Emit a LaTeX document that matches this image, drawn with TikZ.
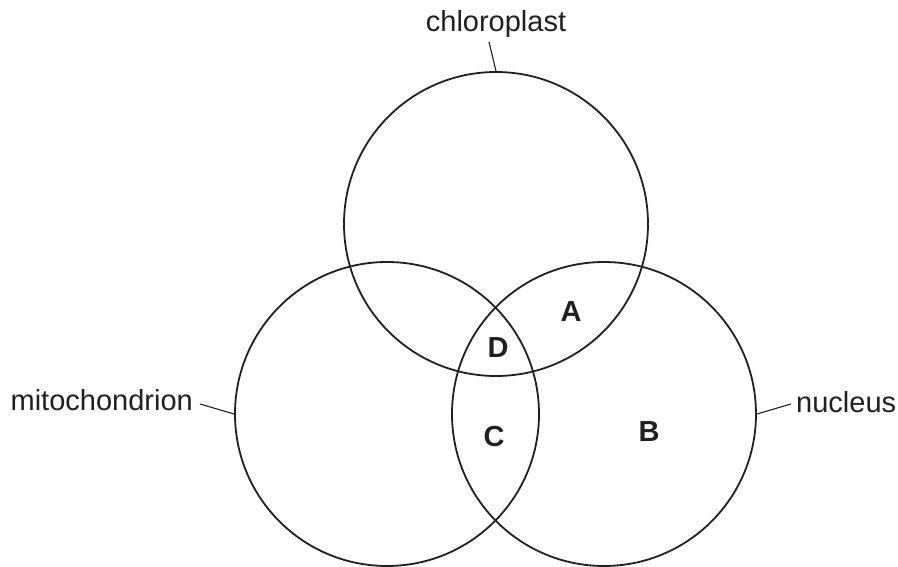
\documentclass[tikz,border=0pt]{standalone}
\usepackage{fontspec}
\setmainfont{Liberation Sans}
\definecolor{ink}{HTML}{231F20}
\begin{document}
\begin{tikzpicture}[x=1pt,y=-1pt,
  ring/.style={draw=ink,line width=1.8pt,circle,minimum size=304pt,inner sep=0pt},
  lbl/.style={text=ink,font=\fontsize{29}{33}\selectfont,inner sep=0pt},
  rgn/.style={text=ink,font=\fontsize{29}{33}\selectfont\bfseries,inner sep=0pt},
  lead/.style={draw=ink,line width=1.1pt}]
\useasboundingbox (0,0) rectangle (898,567);
\node[ring] (chl) at (496,224) {};
\node[ring] (mit) at (387,414) {};
\node[ring] (nuc) at (604,414) {};
\node[lbl,anchor=base] (tchl) at (496,32) {chloroplast};
\node[lbl,anchor=base east] (tmit) at (193,410) {mitochondrion};
\node[lbl,anchor=base west] (tnuc) at (796,412) {nucleus};
\coordinate (lchl) at (489,42);
\coordinate (lmit) at (200,404);
\coordinate (lnuc) at (791,404);
\draw[lead] (lchl) -- (chl.north);
\draw[lead] (lmit) -- (mit.west);
\draw[lead] (lnuc) -- (nuc.east);
\node[rgn] (A) at (571,312) {A};
\node[rgn] (B) at (649,432) {B};
\node[rgn] (C) at (494,437) {C};
\node[rgn] (D) at (498,348) {D};
\end{tikzpicture}
\end{document}
